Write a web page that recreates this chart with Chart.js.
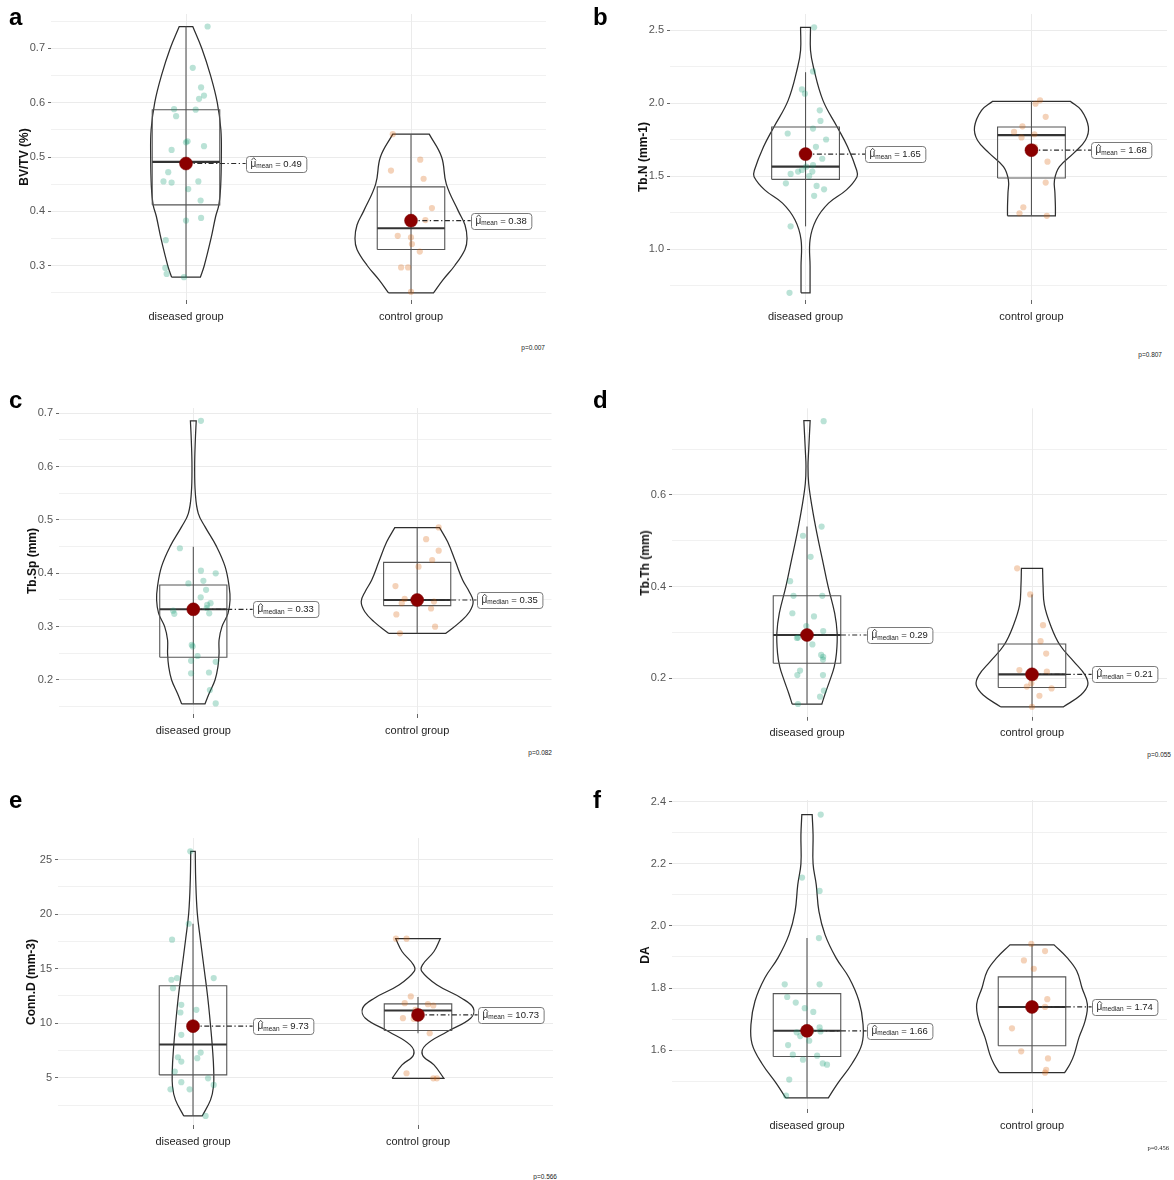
<!DOCTYPE html>
<html>
<head>
<meta charset="utf-8">
<script src="https://cdn.jsdelivr.net/npm/chart.js"></script>
<style>
  html, body { margin: 0; padding: 0; background: #fff; }
  body { width: 1174px; height: 1180px; position: relative; overflow: hidden;
         font-family: "Liberation Sans", Arial, Helvetica, sans-serif; }
  canvas { position: absolute; }
  .letter { position: absolute; font-weight: bold; font-size: 24px; line-height: 1; color: #000; }
  .ytitle { position: absolute; font-weight: bold; font-size: 12px; color: #111; white-space: nowrap;
            transform: translate(-50%, -50%) rotate(-90deg); }
  .pval { position: absolute; font-size: 6.5px; color: #222; white-space: nowrap;
          transform: translate(-100%, -50%); }
</style>
</head>
<body>
<script>
const groups = ["diseased group", "control group"];

// ---- panel a : BV/TV (%) ----
const aVals = [
  [0.740, 0.664, 0.628, 0.607, 0.613, 0.588, 0.575, 0.587, 0.527, 0.529, 0.513, 0.520,
   0.472, 0.455, 0.453, 0.455, 0.441, 0.420, 0.383, 0.388, 0.347, 0.296, 0.285, 0.279],
  [0.542, 0.495, 0.475, 0.460, 0.406, 0.384, 0.355, 0.352, 0.340, 0.326, 0.297, 0.297, 0.252]
];
const aJitter = [
  [0.096, 0.030, 0.067, 0.058, 0.080, -0.053, -0.044, 0.043, 0.000, 0.007, -0.064, 0.080,
   -0.079, -0.100, -0.064, 0.055, 0.010, 0.065, 0.000, 0.067, -0.090, -0.092, -0.086, -0.009],
  [-0.081, 0.041, -0.089, 0.056, 0.093, 0.064, -0.059, 0.000, 0.004, 0.039, -0.044, -0.013, 0.000]
];
const aViolinY = [
  [0.279, 0.30, 0.35, 0.391, 0.412, 0.446, 0.50, 0.55, 0.60, 0.65, 0.70, 0.740],
  [0.250, 0.274, 0.30, 0.33, 0.35, 0.375, 0.40, 0.45, 0.50, 0.542]
];
const aViolinW = [
  [0.064, 0.081, 0.111, 0.132, 0.146, 0.154, 0.157, 0.155, 0.139, 0.109, 0.070, 0.030],
  [0.100, 0.142, 0.194, 0.240, 0.249, 0.240, 0.211, 0.157, 0.136, 0.081]
];
const aBox = [[0.279, 0.412, 0.491, 0.587, 0.740], [0.250, 0.330, 0.369, 0.445, 0.542]];
const aStat = [0.488, 0.383];
const aStatText = ["0.49", "0.38"];
const aTicks = [0.3, 0.4, 0.5, 0.6, 0.7];
const aTickLabels = ["0.3", "0.4", "0.5", "0.6", "0.7"];

// ---- panel b : Tb.N (mm-1) ----
const bVals = [
  [2.518, 2.216, 2.093, 2.064, 1.950, 1.877, 1.825, 1.791, 1.750, 1.700, 1.659, 1.618, 1.575,
   1.564, 1.541, 1.530, 1.514, 1.530, 1.500, 1.450, 1.432, 1.409, 1.364, 1.155, 0.700],
  [2.018, 1.995, 1.905, 1.840, 1.802, 1.764, 1.786, 1.700, 1.598, 1.455, 1.286, 1.245, 1.227]
];
const bJitter = [
  [0.038, 0.033, -0.016, -0.003, 0.063, 0.066, 0.033, -0.079, 0.091, 0.046, 0.008, 0.074, 0.033,
   0.003, -0.016, -0.033, -0.066, 0.030, 0.016, -0.087, 0.049, 0.082, 0.038, -0.066, -0.071],
  [0.038, 0.018, 0.063, -0.040, -0.077, -0.044, 0.013, 0.015, 0.071, 0.063, -0.036, -0.053, 0.068]
];
const bViolinY = [
  [0.70, 0.882, 1.064, 1.20, 1.314, 1.405, 1.495, 1.541, 1.70, 1.836, 2.018, 2.245, 2.36, 2.518],
  [1.227, 1.29, 1.382, 1.473, 1.564, 1.655, 1.745, 1.836, 1.95, 2.011]
];
const bViolinW = [
  [0.020, 0.020, 0.020, 0.047, 0.102, 0.181, 0.228, 0.226, 0.186, 0.140, 0.077, 0.035, 0.022, 0.022],
  [0.106, 0.106, 0.104, 0.102, 0.124, 0.186, 0.239, 0.252, 0.221, 0.173]
];
const bBox = [[1.155, 1.477, 1.564, 1.836, 2.211], [1.227, 1.486, 1.780, 1.836, 2.011]];
const bStat = [1.650, 1.677];
const bStatText = ["1.65", "1.68"];
const bTicks = [1.0, 1.5, 2.0, 2.5];
const bTickLabels = ["1.0", "1.5", "2.0", "2.5"];

// ---- panel c : Tb.Sp (mm) ----
const cVals = [
  [0.686, 0.447, 0.405, 0.400, 0.381, 0.386, 0.369, 0.355, 0.344, 0.341, 0.324, 0.325,
   0.335, 0.330, 0.266, 0.263, 0.245, 0.236, 0.234, 0.2125, 0.214, 0.181, 0.156],
  [0.486, 0.464, 0.4425, 0.425, 0.4125, 0.376, 0.352, 0.344, 0.347, 0.334, 0.323, 0.300, 0.2875]
];
const cJitter = [
  [0.034, -0.060, 0.034, 0.100, -0.022, 0.045, 0.057, 0.033, 0.077, 0.062, -0.085, 0.071,
   0.060, -0.090, -0.007, -0.003, 0.019, -0.010, 0.100, -0.010, 0.070, 0.074, 0.100],
  [0.096, 0.040, 0.096, 0.067, 0.006, -0.097, -0.056, -0.069, 0.075, 0.062, -0.093, 0.080, -0.077]
];
const cViolinY = [
  [0.155, 0.175, 0.20, 0.225, 0.25, 0.275, 0.30, 0.325, 0.35, 0.375, 0.4125, 0.45, 0.4875,
   0.5125, 0.55, 0.60, 0.65, 0.686],
  [0.2875, 0.309, 0.328, 0.347, 0.366, 0.3875, 0.422, 0.459, 0.4856]
];
const cViolinW = [
  [0.052, 0.071, 0.097, 0.110, 0.115, 0.115, 0.128, 0.155, 0.164, 0.160, 0.142, 0.104, 0.052,
   0.022, 0.009, 0.006, 0.009, 0.013],
  [0.128, 0.192, 0.234, 0.250, 0.232, 0.203, 0.171, 0.136, 0.100]
];
const cBox = [[0.155, 0.2425, 0.3325, 0.378, 0.450], [0.2875, 0.3394, 0.350, 0.4206, 0.4856]];
const cStat = [0.3325, 0.350];
const cStatText = ["0.33", "0.35"];
const cTicks = [0.2, 0.3, 0.4, 0.5, 0.6, 0.7];
const cTickLabels = ["0.2", "0.3", "0.4", "0.5", "0.6", "0.7"];

// ---- panel d : Tb.Th (mm) ----
const dVals = [
  [0.761, 0.531, 0.511, 0.465, 0.412, 0.380, 0.380, 0.342, 0.335, 0.314, 0.303, 0.289,
   0.288, 0.274, 0.251, 0.247, 0.241, 0.217, 0.207, 0.207, 0.173, 0.160, 0.144],
  [0.440, 0.383, 0.316, 0.281, 0.254, 0.218, 0.2145, 0.2015, 0.189, 0.178, 0.182, 0.162, 0.138]
];
const dJitter = [
  [0.074, 0.065, -0.018, 0.016, -0.075, -0.060, 0.068, -0.065, 0.031, -0.003, 0.072, -0.040,
   -0.045, 0.024, 0.063, 0.072, 0.071, -0.031, -0.043, 0.071, 0.075, 0.058, -0.040],
  [-0.066, -0.008, 0.049, 0.038, 0.063, -0.056, 0.066, 0.013, -0.003, 0.087, -0.023, 0.033, 0.000]
];
const dViolinY = [
  [0.144, 0.167, 0.196, 0.225, 0.255, 0.298, 0.342, 0.40, 0.458, 0.516, 0.575, 0.625, 0.662, 0.698, 0.762],
  [0.138, 0.1636, 0.1855, 0.207, 0.2364, 0.2727, 0.3164, 0.36, 0.4036, 0.44]
];
const dViolinW = [
  [0.066, 0.081, 0.102, 0.121, 0.131, 0.134, 0.123, 0.094, 0.069, 0.044, 0.022, 0.0075, 0.0045, 0.0075, 0.014],
  [0.140, 0.217, 0.248, 0.236, 0.186, 0.124, 0.082, 0.055, 0.049, 0.047]
];
const dBox = [[0.144, 0.233, 0.2945, 0.380, 0.531], [0.138, 0.180, 0.2087, 0.275, 0.383]];
const dStat = [0.2945, 0.2087];
const dStatText = ["0.29", "0.21"];
const dTicks = [0.2, 0.4, 0.6];
const dTickLabels = ["0.2", "0.4", "0.6"];

// ---- panel e : Conn.D (mm-3) ----
const eVals = [
  [25.75, 19.11, 17.65, 13.98, 14.13, 13.21, 14.13, 11.68, 11.22, 10.98, 8.93, 6.88, 6.48,
   7.31, 6.79, 5.57, 4.59, 4.95, 4.34, 3.94, 3.94, 1.50],
  [17.74, 17.74, 12.45, 11.83, 11.74, 11.62, 11.22, 10.46, 10.40, 9.08, 5.41, 4.95, 4.95]
];
const eJitter = [
  [-0.012, -0.019, -0.093, -0.096, -0.071, -0.089, 0.092, -0.052, 0.015, -0.056, -0.052, -0.067,
   -0.052, 0.034, 0.019, -0.081, -0.052, 0.067, 0.092, -0.100, -0.015, 0.056],
  [-0.098, -0.051, -0.032, -0.059, 0.044, 0.068, -0.011, -0.067, -0.019, 0.052, -0.051, 0.068, 0.084]
];
const eViolinY = [
  [1.5, 2.97, 4.2, 5.7, 7.55, 10.0, 12.45, 14.9, 17.65, 20.1, 23.15, 25.75],
  [4.95, 6.18, 7.09, 8.01, 9.24, 10.46, 11.38, 12.29, 13.52, 14.74, 15.35, 16.57, 17.74]
];
const eViolinW = [
  [0.041, 0.078, 0.091, 0.092, 0.087, 0.077, 0.065, 0.050, 0.033, 0.019, 0.012, 0.010],
  [0.115, 0.071, 0.020, 0.035, 0.131, 0.234, 0.246, 0.194, 0.083, 0.017, 0.020, 0.071, 0.099]
];
const eBox = [[1.50, 5.26, 8.04, 13.43, 19.11], [9.08, 9.33, 11.16, 11.77, 12.39]];
const eStat = [9.73, 10.76];
const eStatText = ["9.73", "10.73"];
const eTicks = [5, 10, 15, 20, 25];
const eTickLabels = ["5", "10", "15", "20", "25"];

// ---- panel f : DA ----
const fVals = [
  [2.359, 2.156, 2.113, 1.961, 1.812, 1.812, 1.771, 1.753, 1.735, 1.723, 1.673, 1.662,
   1.660, 1.657, 1.645, 1.630, 1.616, 1.585, 1.569, 1.582, 1.557, 1.553, 1.505, 1.453],
  [1.942, 1.919, 1.889, 1.862, 1.764, 1.739, 1.670, 1.596, 1.573, 1.536, 1.527]
];
const fJitter = [
  [0.061, -0.022, 0.056, 0.053, -0.099, 0.056, -0.088, -0.050, -0.010, 0.028, 0.056, 0.020,
   0.060, -0.046, -0.030, 0.010, -0.084, -0.063, -0.018, 0.045, 0.070, 0.089, -0.079, -0.093],
  [-0.003, 0.058, -0.036, 0.008, 0.068, 0.058, -0.089, -0.048, 0.071, 0.063, 0.058]
];
const fViolinY = [
  [1.446, 1.491, 1.555, 1.619, 1.683, 1.758, 1.833, 1.897, 1.972, 2.047, 2.133, 2.20, 2.293, 2.359],
  [1.527, 1.555, 1.587, 1.641, 1.694, 1.748, 1.801, 1.855, 1.897, 1.939]
];
const fViolinW = [
  [0.095, 0.135, 0.199, 0.244, 0.249, 0.231, 0.187, 0.129, 0.080, 0.053, 0.041, 0.027, 0.027, 0.023],
  [0.145, 0.169, 0.188, 0.209, 0.236, 0.246, 0.222, 0.199, 0.157, 0.098]
];
const fBox = [[1.446, 1.579, 1.662, 1.782, 1.961], [1.527, 1.614, 1.739, 1.836, 1.939]];
const fStat = [1.662, 1.739];
const fStatText = ["1.66", "1.74"];
const fTicks = [1.6, 1.8, 2.0, 2.2, 2.4];
const fTickLabels = ["1.6", "1.8", "2.0", "2.2", "2.4"];

const fontFam = '"Liberation Sans", Arial, Helvetica, sans-serif';
Chart.defaults.font.family = fontFam;

// canvas: [left, top, width, height], plot: [left, right, top, bottom] in page px
const panels = [
  { letter: "a", title: "BV/TV (%)", p: "p=0.007", kind: "mean",
    vals: aVals, jitter: aJitter, vy: aViolinY, vw: aViolinW, box: aBox, stat: aStat, statText: aStatText,
    ticks: aTicks, tickLabels: aTickLabels, yRange: [0.237, 0.763],
    canvas: [0, 0, 560, 330], plot: [51, 546, 14, 300], letterPos: [9, 5], pPos: [545, 347] },
  { letter: "b", title: "Tb.N (mm-1)", p: "p=0.807", kind: "mean",
    vals: bVals, jitter: bJitter, vy: bViolinY, vw: bViolinW, box: bBox, stat: bStat, statText: bStatText,
    ticks: bTicks, tickLabels: bTickLabels, yRange: [0.6507, 2.6096],
    canvas: [590, 0, 584, 330], plot: [670, 1168, 14, 300], letterPos: [593, 5], pPos: [1162, 354] },
  { letter: "c", title: "Tb.Sp (mm)", p: "p=0.082", kind: "median",
    vals: cVals, jitter: cJitter, vy: cViolinY, vw: cViolinW, box: cBox, stat: cStat, statText: cStatText,
    ticks: cTicks, tickLabels: cTickLabels, yRange: [0.1362, 0.71],
    canvas: [0, 385, 560, 360], plot: [59, 551.5, 408, 714], letterPos: [9, 388], pPos: [552, 752] },
  { letter: "d", title: "Tb.Th (mm)", p: "p=0.055", kind: "median",
    vals: dVals, jitter: dJitter, vy: dViolinY, vw: dViolinW, box: dBox, stat: dStat, statText: dStatText,
    ticks: dTicks, tickLabels: dTickLabels, yRange: [0.1163, 0.789],
    canvas: [590, 385, 584, 360], plot: [672, 1169.5, 408.3, 716.7], letterPos: [593, 388], pPos: [1171, 754] },
  { letter: "e", title: "Conn.D (mm-3)", p: "p=0.566", kind: "mean",
    vals: eVals, jitter: eJitter, vy: eViolinY, vw: eViolinW, box: eBox, stat: eStat, statText: eStatText,
    ticks: eTicks, tickLabels: eTickLabels, yRange: [0.67, 26.97],
    canvas: [0, 785, 560, 380], plot: [58, 554, 838, 1125], letterPos: [9, 788], pPos: [557, 1176] },
  { letter: "f", title: "DA", p: "p=0.456", kind: "median", serifP: true,
    vals: fVals, jitter: fJitter, vy: fViolinY, vw: fViolinW, box: fBox, stat: fStat, statText: fStatText,
    ticks: fTicks, tickLabels: fTickLabels, yRange: [1.41, 2.406],
    canvas: [590, 785, 584, 360], plot: [672, 1167, 800, 1109], letterPos: [593, 788], pPos: [1169, 1147] }
];

const pointColors = ["rgba(27,158,119,0.30)", "rgba(217,95,2,0.28)"];
const BOX_HALF = 0.15;
const LABEL_OFFSET = 0.265;

// closed outline with sharp corners at the flat ends (duplicated corner points)
function violinPath(cat, ys, ws) {
  const n = ys.length;
  const pts = [];
  pts.push({ x: cat - ws[0], y: ys[0] });
  pts.push({ x: cat + ws[0], y: ys[0] });
  for (let i = 0; i < n; i++) pts.push({ x: cat + ws[i], y: ys[i] });
  pts.push({ x: cat + ws[n - 1], y: ys[n - 1] });
  pts.push({ x: cat - ws[n - 1], y: ys[n - 1] });
  for (let i = n - 1; i >= 0; i--) pts.push({ x: cat - ws[i], y: ys[i] });
  return pts;
}

function allTicks(majors, min, max) {
  const step = majors[1] - majors[0];
  const out = majors.slice();
  for (let i = -1; i < majors.length; i++) {
    const m = +(majors[0] + (i + 0.5) * step).toFixed(6);
    if (m >= min && m <= max) out.push(m);
  }
  return out.filter(v => v >= min && v <= max).sort((a, b) => a - b);
}

function drawStatLabel(ctx, left, cy, kind, text) {
  ctx.save();
  const muF = "10px " + fontFam, subF = "6.5px " + fontFam, valF = "9.5px " + fontFam;
  ctx.font = muF; const wMu = ctx.measureText("μ").width;
  ctx.font = subF; const wSub = ctx.measureText(kind).width;
  const valStr = " = " + text;
  ctx.font = valF; const wVal = ctx.measureText(valStr).width;
  const pad = 4, h = 16, w = pad * 2 + wMu + wSub + wVal + 1;
  const top = Math.round(cy - h / 2) + 0.5, l = Math.round(left) + 0.5;
  ctx.beginPath();
  if (ctx.roundRect) ctx.roundRect(l, top, w, h, 3); else ctx.rect(l, top, w, h);
  ctx.fillStyle = "#fff"; ctx.fill();
  ctx.lineWidth = 1; ctx.strokeStyle = "#7a7a7a"; ctx.stroke();
  let x = l + pad;
  const base = cy + 3;
  ctx.fillStyle = "#222"; ctx.textBaseline = "alphabetic"; ctx.textAlign = "left";
  ctx.font = muF; ctx.fillText("μ", x, base);
  ctx.beginPath();
  ctx.moveTo(x + 0.8, cy - 3.2); ctx.lineTo(x + wMu / 2 + 0.3, cy - 5.8); ctx.lineTo(x + wMu - 0.2, cy - 3.2);
  ctx.lineWidth = 0.8; ctx.strokeStyle = "#222"; ctx.stroke();
  x += wMu;
  ctx.font = subF; ctx.fillText(kind, x, base + 1.5);
  x += wSub;
  ctx.font = valF; ctx.fillText(valStr, x, base);
  ctx.restore();
}

const statLabelPlugin = {
  id: "statLabels",
  afterDatasetsDraw(chart, args, opts) {
    const xs = chart.scales.x, ys = chart.scales.y;
    (opts.items || []).forEach(it => {
      drawStatLabel(chart.ctx, xs.getPixelForValue(it.x), ys.getPixelForValue(it.y), it.kind, it.text);
    });
  }
};

function lineDs(data, color, width, order, extra) {
  return Object.assign({ data, showLine: true, borderColor: color, borderWidth: width, pointRadius: 0,
    pointHitRadius: 0, fill: false, tension: 0, order }, extra || {});
}

panels.forEach(P => {
  const [cl, ct, cw, ch] = P.canvas;
  const [pl, pr, pt, pb] = P.plot;
  const cv = document.createElement("canvas");
  cv.width = cw; cv.height = ch;
  cv.style.left = cl + "px"; cv.style.top = ct + "px";
  cv.style.width = cw + "px"; cv.style.height = ch + "px";
  document.body.appendChild(cv);

  const datasets = [];
  const items = [];
  [0, 1].forEach(g => {
    const cat = g + 1;
    const [lo, q1, med, q3, hi] = P.box[g];
    datasets.push(lineDs(violinPath(cat, P.vy[g], P.vw[g]), "#2e2e2e", 1.25, 6, { tension: 0.4 }));
    datasets.push(lineDs([{ x: cat, y: lo }, { x: cat, y: hi }], "#555", 1.1, 5));
    datasets.push(lineDs([
      { x: cat - BOX_HALF, y: q1 }, { x: cat + BOX_HALF, y: q1 }, { x: cat + BOX_HALF, y: q3 },
      { x: cat - BOX_HALF, y: q3 }, { x: cat - BOX_HALF, y: q1 }], "#555", 1.1, 4));
    datasets.push(lineDs([{ x: cat - BOX_HALF, y: med }, { x: cat + BOX_HALF, y: med }], "#333", 2.1, 3));
    datasets.push({
      data: P.vals[g].map((v, i) => ({ x: cat + P.jitter[g][i], y: v })),
      pointRadius: 3.1, pointBackgroundColor: pointColors[g], pointBorderWidth: 0, order: 2
    });
    datasets.push(lineDs([{ x: cat, y: P.stat[g] }, { x: cat + LABEL_OFFSET, y: P.stat[g] }], "#2a2a2a", 1.2, 1,
      { borderDash: [5, 2.5, 1.3, 2.5] }));
    datasets.push({
      data: [{ x: cat, y: P.stat[g] }], pointRadius: 6.5, pointBackgroundColor: "#8b0000",
      pointBorderColor: "#7a0000", pointBorderWidth: 0.5, order: 0
    });
    items.push({ x: cat + LABEL_OFFSET, y: P.stat[g], kind: P.kind, text: P.statText[g] });
  });

  const [yMin, yMax] = P.yRange;
  const tickVals = allTicks(P.ticks, yMin, yMax);
  const majorIdx = v => P.ticks.findIndex(t => Math.abs(t - v) < 1e-6);

  new Chart(cv, {
    type: "scatter",
    data: { datasets },
    plugins: [statLabelPlugin],
    options: {
      responsive: false, animation: false, events: [],
      layout: { padding: { left: 0, bottom: 0, top: pt - ct, right: cl + cw - pr } },
      plugins: { legend: { display: false }, tooltip: { enabled: false }, statLabels: { items } },
      scales: {
        x: {
          type: "linear", min: 0.4, max: 2.6,
          afterBuildTicks: s => { s.ticks = [{ value: 1 }, { value: 2 }]; },
          afterFit: s => { s.height = ct + ch - pb; },
          ticks: { callback: v => groups[v - 1] || "", font: { size: 11 }, color: "#1e1e1e",
                   padding: 6, maxRotation: 0, autoSkip: false },
          grid: { color: "#ebebeb", lineWidth: 1, tickLength: 4, tickColor: "#666", tickWidth: 1 },
          border: { display: false }
        },
        y: {
          type: "linear", min: yMin, max: yMax,
          afterBuildTicks: s => { s.ticks = tickVals.map(v => ({ value: v })); },
          afterFit: s => { s.width = pl - cl; },
          ticks: { callback: v => { const i = majorIdx(v); return i >= 0 ? P.tickLabels[i] : ""; },
                   font: { size: 11 }, color: "#555", padding: 3, autoSkip: false },
          grid: {
            color: "#ebebeb",
            lineWidth: c => (c.tick && majorIdx(c.tick.value) >= 0 ? 1 : 0.7),
            tickLength: 3, tickWidth: 1,
            tickColor: c => (c.tick && majorIdx(c.tick.value) >= 0 ? "#666" : "rgba(0,0,0,0)")
          },
          border: { display: false }
        }
      }
    }
  });

  const L = document.createElement("div");
  L.className = "letter"; L.textContent = P.letter;
  L.style.left = P.letterPos[0] + "px"; L.style.top = P.letterPos[1] + "px";
  document.body.appendChild(L);

  const T = document.createElement("div");
  T.className = "ytitle"; T.textContent = P.title;
  T.style.left = (pl - 27) + "px"; T.style.top = ((pt + pb) / 2) + "px";
  document.body.appendChild(T);

  const pv = document.createElement("div");
  pv.className = "pval"; pv.textContent = P.p;
  if (P.serifP) pv.style.fontFamily = '"Liberation Serif", "Times New Roman", serif';
  pv.style.left = P.pPos[0] + "px"; pv.style.top = P.pPos[1] + "px";
  document.body.appendChild(pv);
});
</script>
</body>
</html>
